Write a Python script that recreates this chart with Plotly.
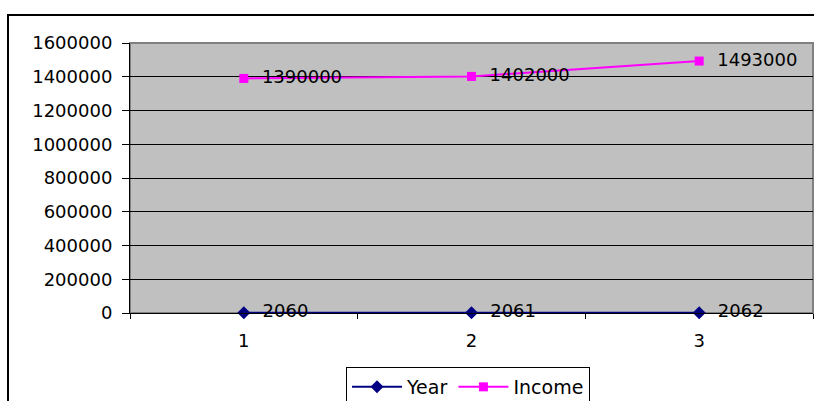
import plotly.graph_objects as go

categories = ["1", "2", "3"]
year_values = [2060, 2061, 2062]
income_values = [1390000, 1402000, 1493000]
year_labels = ["2060", "2061", "2062"]
income_labels = ["1390000", "1402000", "1493000"]
series_names = ["Year", "Income"]

W, H = 814, 401
L, R, T, B = 130, 1, 43, 88
pw = W - L - R
ph = H - T - B

def px_x(p):
    return (p - L) / pw

def px_y(p):
    return (H - B - p) / ph

FONT = "DejaVu Sans"

fig = go.Figure()
fig.add_trace(go.Scatter(
    x=categories, y=year_values, name=series_names[0],
    mode="lines+markers+text", text=year_labels, textposition="middle right",
    texttemplate="  %{text}",
    line=dict(color="#000080", width=2),
    marker=dict(symbol="diamond", size=10, color="#000080"),
    textfont=dict(family=FONT, size=18, color="black"),
    cliponaxis=False,
))
fig.add_trace(go.Scatter(
    x=categories, y=income_values, name=series_names[1],
    mode="lines+markers+text", text=income_labels, textposition="middle right",
    texttemplate="  %{text}",
    line=dict(color="#FF00FF", width=2),
    marker=dict(symbol="square", size=9, color="#FF00FF"),
    textfont=dict(family=FONT, size=18, color="black"),
    cliponaxis=False,
))

fig.update_layout(
    width=W, height=H,
    margin=dict(l=L, r=R, t=T, b=B, pad=0, autoexpand=False),
    paper_bgcolor="white",
    plot_bgcolor="#C0C0C0",
    font=dict(family=FONT, size=18, color="black"),
    showlegend=True,
    legend=dict(
        orientation="h", x=px_x(346), xanchor="left", y=px_y(367), yanchor="top",
        bordercolor="black", borderwidth=1, bgcolor="white",
        font=dict(family=FONT, size=19, color="black"),
        itemwidth=50,
    ),
    xaxis=dict(
        type="category", range=[-0.5, 2.5], tickson="boundaries",
        ticks="outside", ticklen=5, tickcolor="black",
        showline=True, linecolor="black", linewidth=1,
        showgrid=False, fixedrange=True, ticklabelstandoff=11,
    ),
    yaxis=dict(
        range=[0, 1600000], dtick=200000, tickformat="d",
        ticks="outside", ticklen=7, tickcolor="black",
        showgrid=True, gridcolor="black", gridwidth=1,
        showline=True, linecolor="black", linewidth=1,
        zeroline=False, fixedrange=True, ticklabelstandoff=6,
    ),
    shapes=[
        dict(type="rect", xref="paper", yref="paper",
             x0=0, x1=1, y0=0, y1=1, line=dict(color="#808080", width=2), layer="below"),
        dict(type="rect", xref="paper", yref="paper",
             x0=px_x(8), x1=px_x(840), y0=px_y(430), y1=px_y(15),
             line=dict(color="black", width=2), fillcolor="rgba(0,0,0,0)"),
    ],
)

fig.write_html("out.html")
